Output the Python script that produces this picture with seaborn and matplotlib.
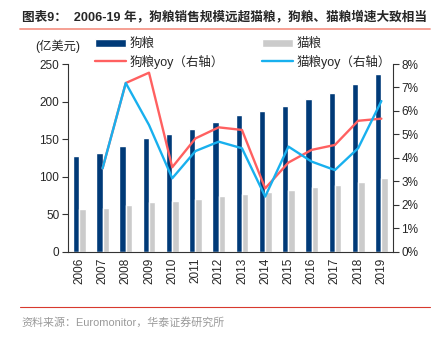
import numpy as np
import pandas as pd
import matplotlib
matplotlib.use("Agg")
import matplotlib.pyplot as plt
from matplotlib.patches import Patch
from matplotlib.lines import Line2D
import seaborn as sns

# ---- data ----
years = ["2006", "2007", "2008", "2009", "2010", "2011", "2012",
         "2013", "2014", "2015", "2016", "2017", "2018", "2019"]
dog_sales = [127, 132, 141, 152, 157, 164, 173, 182, 188, 194, 203, 212, 224, 237]
cat_sales = [56.5, 58, 62, 66, 68, 70.5, 74, 77, 79, 82, 86, 89, 92.5, 98]
dog_yoy = [np.nan, 3.55, 7.19, 7.63, 3.60, 4.83, 5.30, 5.19, 2.70, 3.80, 4.34, 4.55, 5.58, 5.67]
cat_yoy = [np.nan, 3.55, 7.19, 5.40, 3.13, 4.29, 4.69, 4.41, 2.35, 4.48, 3.84, 3.48, 4.41, 6.42]

left_ticks = [0, 50, 100, 150, 200, 250]
right_ticks = [0, 1, 2, 3, 4, 5, 6, 7, 8]

series_bar = ["狗粮", "猫粮"]
series_line = ["狗粮yoy（右轴）", "猫粮yoy（右轴）"]

NAVY = "#003A78"
GREY = "#CBCBCB"
RED = "#FF6060"
BLUE = "#18B0EE"

sns.set_theme(style="white")
plt.rcParams["font.family"] = ["Liberation Sans", "Noto Sans CJK SC"]
plt.rcParams["axes.unicode_minus"] = False

bars = pd.DataFrame({
    "year": years * 2,
    "value": dog_sales + cat_sales,
    "series": [series_bar[0]] * len(years) + [series_bar[1]] * len(years),
})
pos = np.arange(len(years))
lines = pd.DataFrame({
    "pos": np.concatenate([pos, pos]),
    "yoy": dog_yoy + cat_yoy,
    "series": [series_line[0]] * len(years) + [series_line[1]] * len(years),
})

fig = plt.figure(figsize=(4.35, 3.39), dpi=100)
ax = fig.add_axes([0.1556, 0.2575, 0.7478, 0.5537])

sns.barplot(data=bars, x="year", y="value", hue="series", order=years,
            hue_order=series_bar, palette=[NAVY, GREY], width=0.55, gap=0,
            saturation=1, ax=ax, legend=False)

ax2 = ax.twinx()
sns.lineplot(data=lines.dropna(), x="pos", y="yoy", hue="series",
             hue_order=series_line, palette=[RED, BLUE], linewidth=1.7,
             ax=ax2, legend=False, sort=True)

n = len(years)
ax.set_xlim(-0.5, n - 0.5)
ax2.set_xlim(-0.5, n - 0.5)
ax.set_ylim(0, 250)
ax2.set_ylim(0, 8)
ax.set_yticks(left_ticks)
ax.set_yticklabels([str(t) for t in left_ticks], fontsize=8.5)
ax2.set_yticks(right_ticks)
ax2.set_yticklabels([f"{t}%" for t in right_ticks], fontsize=8.5)
ax.set_xticks(pos)
ax.set_xticklabels(years, rotation=90, fontsize=8.5)
ax.set_xticks(np.arange(n + 1) - 0.5, minor=True)
ax.tick_params(axis="x", which="major", length=0, pad=4)
ax.tick_params(axis="x", which="minor", length=4, width=0.8, color="#333333", direction="out")
ax.tick_params(axis="y", length=4, width=0.8, color="#333333", direction="out", pad=2)
ax2.tick_params(axis="y", length=4, width=0.8, color="#333333", direction="out", pad=2)
ax.set_xlabel("")
ax.set_ylabel("")
ax2.set_xlabel("")
ax2.set_ylabel("")

for a in (ax, ax2):
    a.spines["top"].set_visible(False)
    for s in ("left", "right", "bottom"):
        a.spines[s].set_color("#333333")
        a.spines[s].set_linewidth(0.8)
ax.spines["right"].set_visible(False)
ax2.spines["left"].set_visible(False)
ax2.spines["bottom"].set_visible(False)

# unit label
fig.text(35 / 435, 1 - 46.5 / 339, "(亿美元)", fontsize=8.8, va="center", ha="left")

# legends
h_dog = [Patch(facecolor=NAVY), Line2D([], [], color=RED, linewidth=1.7)]
h_cat = [Patch(facecolor=GREY), Line2D([], [], color=BLUE, linewidth=1.7)]
leg_kw = dict(frameon=False, fontsize=9, handlelength=2.45, handleheight=0.6,
              handletextpad=0.35, labelspacing=0.35, borderpad=0, borderaxespad=0,
              loc="upper left", bbox_transform=fig.transFigure)
leg1 = ax2.legend(h_dog, [series_bar[0], series_line[0]],
                  bbox_to_anchor=(95 / 435, 1 - 38 / 339), **leg_kw)
ax2.add_artist(leg1)
ax2.legend(h_cat, [series_bar[1], series_line[1]],
           bbox_to_anchor=(262 / 435, 1 - 38 / 339), **leg_kw)

# title and rules
fig.text(22 / 435, 1 - 17 / 339,
         "图表9：  2006-19 年，狗粮销售规模远超猫粮，狗粮、猫粮增速大致相当",
         fontsize=9.1, fontweight="bold", va="center", ha="left")
fig.add_artist(Line2D([20.5 / 435, 430 / 435], [1 - 29.3 / 339, 1 - 29.3 / 339],
                      color="#F4978A", linewidth=1.3, transform=fig.transFigure))
fig.add_artist(Line2D([20.5 / 435, 430 / 435], [1 - 306.7 / 339, 1 - 306.7 / 339],
                      color="#D8392E", linewidth=0.8, transform=fig.transFigure))
fig.text(21.5 / 435, 1 - 322.5 / 339, "资料来源：Euromonitor，华泰证券研究所",
         fontsize=7.9, color="#9A9A9A", va="center", ha="left")

fig.savefig("out.png", dpi=100)
